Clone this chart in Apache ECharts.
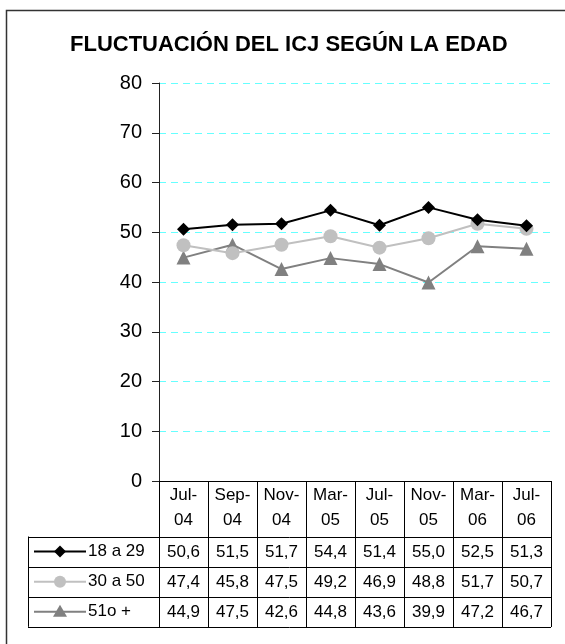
<!DOCTYPE html>
<html>
<head>
<meta charset="utf-8">
<script src="https://cdn.jsdelivr.net/npm/echarts@6/dist/echarts.min.js"></script>
<style>
html,body{margin:0;padding:0;background:#fff;}
#c{width:565px;height:644px;}
</style>
</head>
<body>
<div id="c"></div>
<script>
var titleText = 'FLUCTUACIÓN DEL ICJ SEGÚN LA EDAD';
var categories = ['Jul-04','Sep-04','Nov-04','Mar-05','Jul-05','Nov-05','Mar-06','Jul-06'];
var seriesNames = ['18 a 29','30 a 50','51o +'];
var s18a29 = [50.6,51.5,51.7,54.4,51.4,55.0,52.5,51.3];
var s30a50 = [47.4,45.8,47.5,49.2,46.9,48.8,51.7,50.7];
var s51mas = [44.9,47.5,42.6,44.8,43.6,39.9,47.2,46.7];
var yTicks = [0,10,20,30,40,50,60,70,80];

var FONT = '"Liberation Sans", Arial, sans-serif';
var colors = ['#000000','#c0c0c0','#808080'];
var symbols = ['diamond','circle','triangle'];
var symSizes = [13,14,14];
var allData = [s18a29, s30a50, s51mas];

var chart = echarts.init(document.getElementById('c'), null, {renderer:'canvas'});

var option = {
  animation:false,
  backgroundColor:'#fff',
  title:{
    text:titleText, left:65, top:29,
    textStyle:{fontFamily:FONT, fontSize:22, fontWeight:'bold', color:'#000'}
  },
  grid:{left:159, right:14, top:83, bottom:163, containLabel:false},
  xAxis:{
    type:'category', data:categories, boundaryGap:true,
    axisLine:{show:true, lineStyle:{color:'#000', width:1}},
    axisTick:{show:true, interval:0, length:146, lineStyle:{color:'#000', width:1}},
    axisLabel:{
      interval:0, margin:2, fontFamily:FONT, fontSize:17, color:'#000', lineHeight:25,
      formatter:function(v){ var p=v.split('-'); return p[0]+'-\n'+p[1]; }
    },
    splitLine:{show:false}
  },
  yAxis:{
    type:'value', min:yTicks[0], max:yTicks[yTicks.length-1], interval:10,
    axisLine:{show:true, lineStyle:{color:'#222', width:1}},
    axisTick:{show:true, length:7, lineStyle:{color:'#222'}},
    axisLabel:{margin:17, fontFamily:FONT, fontSize:20, color:'#000'},
    splitLine:{show:true, lineStyle:{color:'#66ffff', type:[7,5], width:1}}
  },
  series: allData.map(function(d,i){
    return {
      name:seriesNames[i], type:'line', data:d,
      symbol:symbols[i], symbolSize:symSizes[i], showSymbol:true,
      lineStyle:{color:colors[i], width:2},
      itemStyle:{color:colors[i]},
      z: 10 - i
    };
  })
};
chart.setOption(option);

function buildTable(){
  var g = [];
  var L = 28, R = 551, top = 536.5, rowH = 30.1;
  g.push({type:'polyline', shape:{points:[[6.5,700],[6.5,10.5],[600,10.5]]},
          style:{stroke:'#333', lineWidth:1.5, fill:null}, silent:true});
  for (var r=0; r<=3; r++){
    var y = Math.round(top + r*rowH) + 0.5;
    g.push({type:'line', shape:{x1:L, y1:y, x2:R, y2:y}, style:{stroke:'#000', lineWidth:1}, silent:true});
  }
  g.push({type:'line', shape:{x1:L+0.5, y1:top, x2:L+0.5, y2:top+3*rowH}, style:{stroke:'#000', lineWidth:1}, silent:true});
  for (var s=0; s<allData.length; s++){
    var cy = top + (s+0.5)*rowH;
    g.push({type:'line', shape:{x1:34, y1:cy, x2:86, y2:cy}, style:{stroke:colors[s], lineWidth:2}, silent:true});
    if (symbols[s]==='diamond'){
      g.push({type:'polygon', shape:{points:[[60,cy-6],[66,cy],[60,cy+6],[54,cy]]}, style:{fill:colors[s]}, silent:true});
    } else if (symbols[s]==='circle'){
      g.push({type:'circle', shape:{cx:60, cy:cy, r:6}, style:{fill:colors[s]}, silent:true});
    } else {
      g.push({type:'polygon', shape:{points:[[60,cy-7],[67,cy+5],[53,cy+5]]}, style:{fill:colors[s]}, silent:true});
    }
    g.push({type:'text', x:88, y:cy, style:{text:seriesNames[s], font:'17px '+FONT, fill:'#000', verticalAlign:'middle', align:'left'}, silent:true});
    for (var i=0; i<categories.length; i++){
      var x = chart.convertToPixel({xAxisIndex:0}, categories[i]);
      var txt = allData[s][i].toFixed(1).replace('.', ',');
      g.push({type:'text', x:x, y:cy+1, style:{text:txt, font:'17px '+FONT, fill:'#000', verticalAlign:'middle', align:'center'}, silent:true});
    }
  }
  chart.setOption({graphic:{elements:g}});
}
buildTable();
</script>
</body>
</html>
